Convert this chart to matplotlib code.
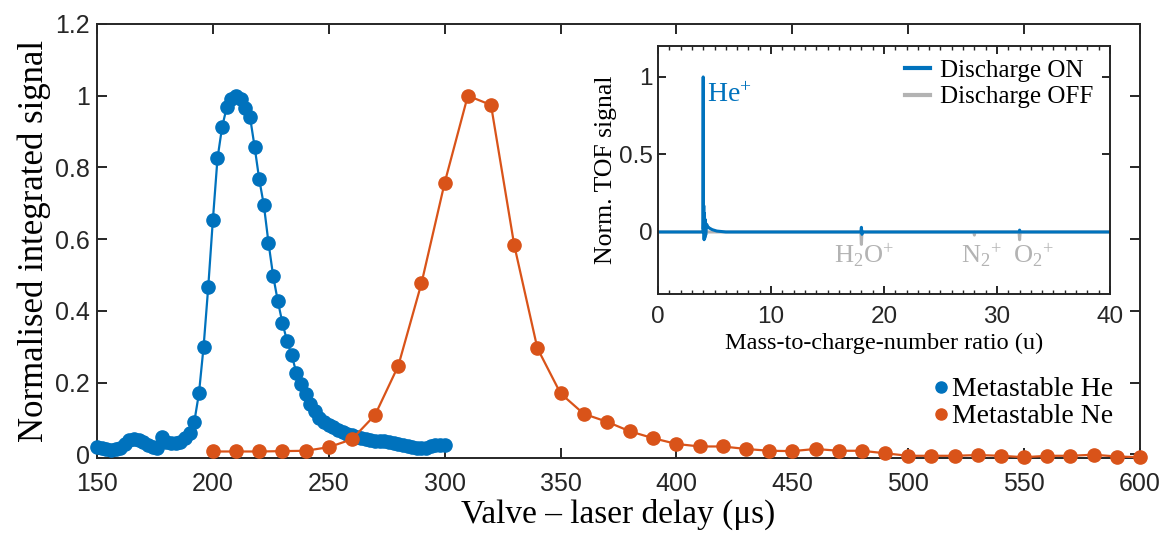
import matplotlib
matplotlib.use("Agg")
import matplotlib.pyplot as plt
from matplotlib.ticker import FuncFormatter, MultipleLocator
from matplotlib.lines import Line2D

# ---- metastable atom signal vs. valve-laser delay ----
he_delay = list(range(150, 302, 2))  # µs, 2 µs scan grid
he_signal = [
    0.020, 0.018, 0.014, 0.012, 0.014, 0.019, 0.030, 0.039, 0.042, 0.040,
    0.034, 0.027, 0.020, 0.017, 0.048, 0.034, 0.031, 0.031, 0.034, 0.045,
    0.059, 0.091, 0.170, 0.300, 0.466, 0.653, 0.825, 0.913, 0.968, 0.990,
    1.000, 0.990, 0.966, 0.942, 0.858, 0.767, 0.695, 0.590, 0.498, 0.428,
    0.367, 0.316, 0.277, 0.228, 0.195, 0.168, 0.140, 0.120, 0.102, 0.090,
    0.082, 0.075, 0.068, 0.062, 0.058, 0.054, 0.049, 0.046, 0.043, 0.040,
    0.038, 0.037, 0.036, 0.035, 0.032, 0.029, 0.027, 0.024, 0.021, 0.018,
    0.017, 0.019, 0.022, 0.026, 0.027, 0.026,
]

ne_delay = list(range(200, 610, 10))  # µs, 10 µs scan grid
ne_signal = [
    0.008, 0.008, 0.008, 0.009, 0.010, 0.020, 0.042, 0.110, 0.247, 0.477,
    0.757, 1.000, 0.974, 0.584, 0.296, 0.170, 0.113, 0.091, 0.064, 0.045,
    0.029, 0.022, 0.022, 0.015, 0.010, 0.009, 0.015, 0.010, 0.010, 0.003,
    -0.004, -0.004, -0.004, -0.002, -0.004, -0.008, -0.004, -0.004, -0.001,
    -0.006, -0.008,
]

# ---- TOF mass spectra (normalised) ----
tof_on_mz = [0, 3.97, 4.00, 4.02, 4.05, 4.08, 4.11, 4.14, 4.18, 4.22, 4.30,
             4.40, 4.55, 4.80, 5.20, 6.00, 17.95, 18.00, 18.05, 18.10,
             31.95, 32.00, 32.05, 40]
tof_on_sig = [0, 0, 1.00, 0.02, 0.17, -0.05, 0.12, -0.04, 0.08, -0.02, 0.05,
              0.035, 0.025, 0.015, 0.006, 0, 0, 0.03, -0.015, 0,
              0, 0.012, 0, 0]
tof_off_mz = [0, 17.95, 18.00, 18.05, 27.95, 28.00, 28.05, 31.95, 32.00, 32.05, 40]
tof_off_sig = [0, 0, -0.08, 0, 0, -0.02, 0, 0, -0.05, 0, 0]

main_xticks = [150, 200, 250, 300, 350, 400, 450, 500, 550, 600]
main_yticks = [0, 0.2, 0.4, 0.6, 0.8, 1.0, 1.2]
inset_xticks = [0, 10, 20, 30, 40]
inset_yticks = [0, 0.5, 1]

BLUE = "#0072BD"
ORANGE = "#D95319"
GREY = "#B3B3B3"
AXC = "#262626"
SANS = "Liberation Sans"
SERIF = "Liberation Serif"

plt.rcParams["mathtext.fontset"] = "custom"
plt.rcParams["mathtext.rm"] = SERIF
plt.rcParams["mathtext.it"] = SERIF + ":italic"
plt.rcParams["axes.linewidth"] = 1.4

fmt = FuncFormatter(lambda v, p: f"{v:g}")

fig = plt.figure(figsize=(11.64, 5.35), dpi=100)
ax = fig.add_axes([0.0833, 0.1445, 0.8961, 0.8107])

ax.plot(he_delay, he_signal, "-o", color=BLUE, lw=1.6, ms=9.5, clip_on=False,
        zorder=3)
ax.plot(ne_delay, ne_signal, "-o", color=ORANGE, lw=1.6, ms=9.5, clip_on=False,
        zorder=4)

ax.set_xlim(150, 600)
ax.set_ylim(-0.0093, 1.2)
ax.set_xticks(main_xticks)
ax.set_yticks(main_yticks)
ax.yaxis.set_major_formatter(fmt)
ax.tick_params(direction="in", length=7.5, width=1.4, color=AXC,
               labelcolor=AXC, labelsize=18, top=True, right=True)
ax.tick_params(axis="x", pad=10)
ax.tick_params(axis="y", pad=5)
for lab in ax.get_xticklabels() + ax.get_yticklabels():
    lab.set_fontfamily(SANS)
for s in ax.spines.values():
    s.set_color(AXC)

ax.set_xlabel("Valve \u2013 laser delay (\u03bcs)", fontfamily=SERIF,
              fontsize=24, color="black", labelpad=2)
ax.set_ylabel("Normalised integrated signal", fontfamily=SERIF, fontsize=25,
              color="black", labelpad=3)

handles = [Line2D([], [], ls="none", marker="o", color=BLUE, ms=8),
           Line2D([], [], ls="none", marker="o", color=ORANGE, ms=8)]
ax.legend(handles, ["Metastable He", "Metastable Ne"], loc="lower right",
          bbox_to_anchor=(0.985, 0.04), frameon=False,
          prop={"family": SERIF, "size": 20}, handlelength=0.5,
          handletextpad=0.15, labelspacing=0.05, borderaxespad=0)

# ---- inset ----
ins = fig.add_axes([0.5653, 0.4505, 0.3883, 0.4636])
ins.plot(tof_off_mz, tof_off_sig, color=GREY, lw=2.2)
ins.plot(tof_on_mz, tof_on_sig, color=BLUE, lw=2.2)
ins.set_xlim(0, 40)
ins.set_ylim(-0.4, 1.2)
ins.set_xticks(inset_xticks)
ins.set_yticks(inset_yticks)
ins.xaxis.set_minor_locator(MultipleLocator(1))
ins.yaxis.set_major_formatter(fmt)
ins.tick_params(which="major", direction="in", length=6, width=1.4, color=AXC,
                labelcolor=AXC, labelsize=17.5, top=True, right=True)
ins.tick_params(which="minor", direction="in", length=3, width=1.0, color=AXC,
                top=True, right=True)
ins.tick_params(axis="x", pad=9)
ins.tick_params(axis="y", pad=4)
for lab in ins.get_xticklabels() + ins.get_yticklabels():
    lab.set_fontfamily(SANS)
for s in ins.spines.values():
    s.set_color(AXC)
ins.set_xlabel("Mass-to-charge-number ratio (u)", fontfamily=SERIF,
               fontsize=17.5, color="black", labelpad=3)
ins.set_ylabel("Norm. TOF signal", fontfamily=SERIF, fontsize=18.5,
               color="black", labelpad=1)

ins.text(4.3, 0.88, r"He$^{+}$", color=BLUE, fontfamily=SERIF, fontsize=20,
         va="center", ha="left")
ins.text(15.6, -0.15, r"H$_{2}$O$^{+}$", color=GREY, fontfamily=SERIF,
         fontsize=19, va="center", ha="left")
ins.text(26.8, -0.15, r"N$_{2}$$^{+}$", color=GREY, fontfamily=SERIF,
         fontsize=19, va="center", ha="left")
ins.text(31.4, -0.15, r"O$_{2}$$^{+}$", color=GREY, fontfamily=SERIF,
         fontsize=19, va="center", ha="left")

ihandles = [Line2D([], [], color=BLUE, lw=3), Line2D([], [], color=GREY, lw=3)]
ins.legend(ihandles, ["Discharge ON", "Discharge OFF"], loc="upper right",
           bbox_to_anchor=(0.985, 0.985), frameon=False,
           prop={"family": SERIF, "size": 18}, handlelength=1.0,
           handletextpad=0.4, labelspacing=0.15, borderaxespad=0)

fig.savefig("out.png", dpi=100)
